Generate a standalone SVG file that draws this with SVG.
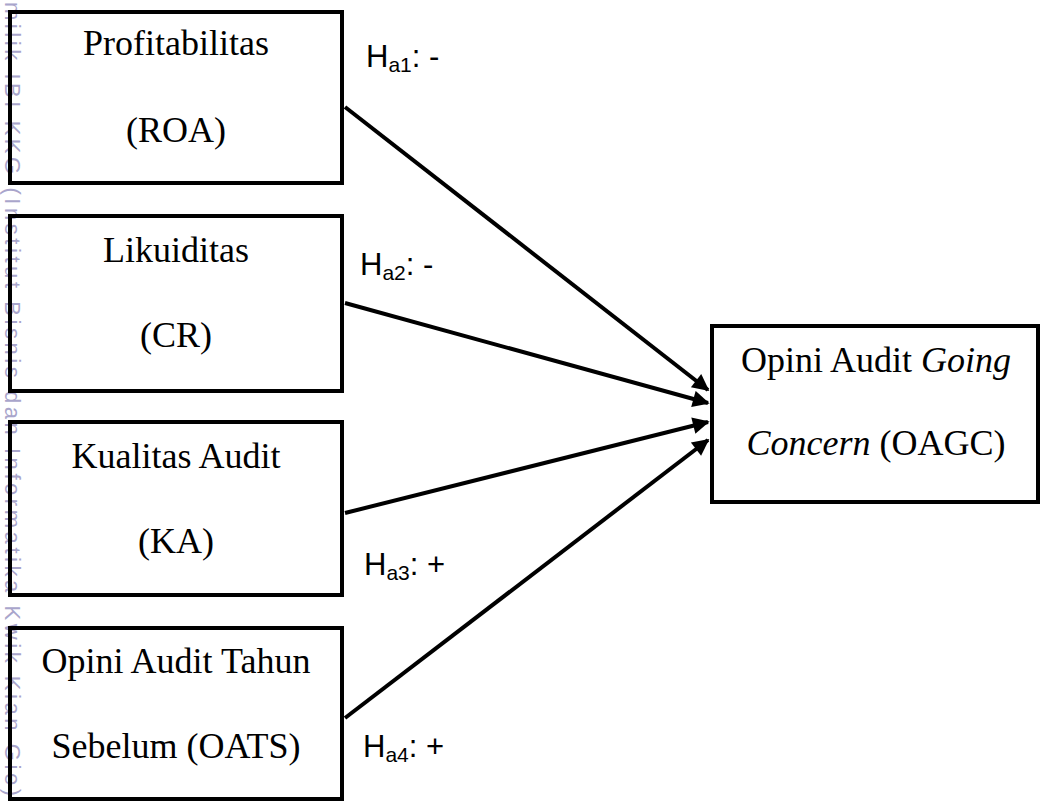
<svg xmlns="http://www.w3.org/2000/svg" width="1041" height="802" viewBox="0 0 1041 802">
<style>
.box{fill:none;stroke:#000;stroke-width:4}
.t{font-family:"Liberation Serif","Times New Roman",serif;font-size:36px;fill:#000;text-anchor:middle}
.h{font-family:"Liberation Sans",Arial,sans-serif;font-size:31px;fill:#000}
.sub{font-size:21px}
.wm{font-family:"Liberation Sans",Arial,sans-serif;font-size:22px;fill:#a9a5cb}
.c{stroke:#000;stroke-width:4;fill:none}
</style>
<defs>
<marker id="ah" viewBox="0 0 10 10" refX="9" refY="5" markerWidth="5" markerHeight="4.2" markerUnits="strokeWidth" orient="auto">
<path d="M0,0 L10,5 L0,10 z" fill="#000"/>
</marker>
</defs>
<rect width="1041" height="802" fill="#fff"/>
<g id="watermark">
<text class="wm" transform="translate(5,0) rotate(90)" x="2" y="0" textLength="794" lengthAdjust="spacing">milik IBI KKG (Institut Bisnis dan Informatika Kwik Kian Gie)</text>
</g>
<g id="connectors">
<line class="c" x1="345" y1="107" x2="708" y2="390" marker-end="url(#ah)"/>
<line class="c" x1="345" y1="303" x2="708" y2="403" marker-end="url(#ah)"/>
<line class="c" x1="345" y1="513" x2="708" y2="422" marker-end="url(#ah)"/>
<line class="c" x1="345" y1="718" x2="708" y2="440" marker-end="url(#ah)"/>
</g>
<g id="roa">
<rect class="box" x="10" y="12" width="332" height="171"/>
<text class="t" x="176" y="55">Profitabilitas</text>
<text class="t" x="176" y="142">(ROA)</text>
</g>
<g id="cr">
<rect class="box" x="10" y="216" width="332" height="175"/>
<text class="t" x="176" y="262">Likuiditas</text>
<text class="t" x="176" y="347">(CR)</text>
</g>
<g id="ka">
<rect class="box" x="10" y="422" width="332" height="173"/>
<text class="t" x="176" y="468">Kualitas Audit</text>
<text class="t" x="176" y="553">(KA)</text>
</g>
<g id="oats">
<rect class="box" x="10" y="628" width="332" height="171"/>
<text class="t" x="176" y="673">Opini Audit Tahun</text>
<text class="t" x="176" y="758">Sebelum (OATS)</text>
</g>
<g id="oagc">
<rect class="box" x="712" y="326" width="326" height="176"/>
<text class="t" x="876" y="372">Opini Audit <tspan font-style="italic">Going</tspan></text>
<text class="t" x="876" y="455"><tspan font-style="italic">Concern</tspan> (OAGC)</text>
</g>
<g id="labels">
<text class="h" x="366" y="67">H<tspan class="sub" dy="5">a1</tspan><tspan dy="-5">: -</tspan></text>
<text class="h" x="360" y="275">H<tspan class="sub" dy="5">a2</tspan><tspan dy="-5">: -</tspan></text>
<text class="h" x="364" y="575">H<tspan class="sub" dy="5">a3</tspan><tspan dy="-5">: +</tspan></text>
<text class="h" x="363" y="757">H<tspan class="sub" dy="5">a4</tspan><tspan dy="-5">: +</tspan></text>
</g>
</svg>
